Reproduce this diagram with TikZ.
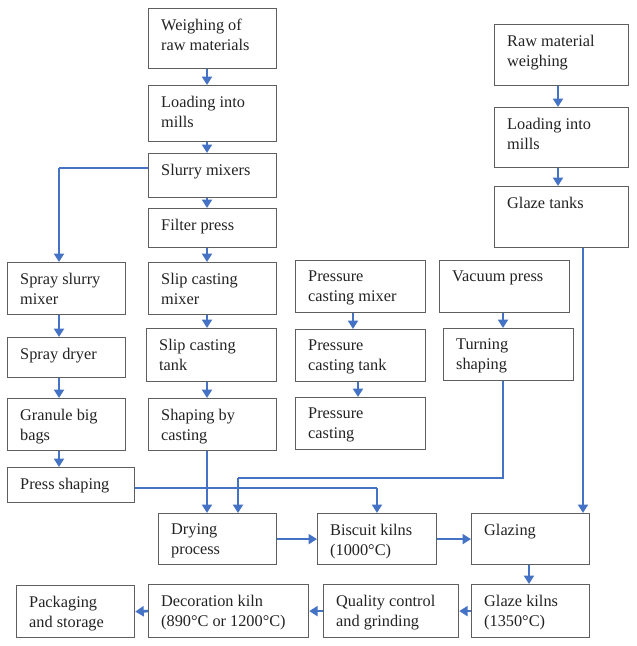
\documentclass[tikz,border=0pt]{standalone}
\usepackage{fontspec}
\setmainfont{Liberation Serif}
\usetikzlibrary{arrows.meta,calc}
\definecolor{flowblue}{RGB}{68,114,196}
\definecolor{boxgray}{RGB}{95,95,95}
\definecolor{txtgray}{RGB}{35,35,35}
\tikzset{
  box/.style={draw=boxgray, line width=1.2pt, fill=white, anchor=north west, inner sep=0pt},
  lbl/.style={anchor=north west, align=left, inner sep=0pt, text=txtgray, font=\fontsize{16.3}{20}\selectfont},
  arr/.style={draw=flowblue, line width=2.6pt, -{Triangle[width=10pt,length=8.5pt]}},
  thinline/.style={draw=flowblue, line width=1.1pt},
}
\newcommand{\procbox}[6]{%
  \node[box, minimum width=#4pt, minimum height=#5pt] (#1) at (#2,#3) {};
  \node[lbl] (#1-t) at ([xshift=13pt,yshift=-11pt]#1.north west) {#6};
}
\begin{document}
\begin{tikzpicture}[x=1pt,y=-1pt]
\useasboundingbox (0,0) rectangle (637,646);
\fill[white] (0,0) rectangle (637,646);
% centre column
\procbox{wr}{148}{8}{128}{60}{Weighing of\\raw materials}
\procbox{lm}{148}{85}{128}{56}{Loading into\\mills}
\procbox{sm}{148}{153}{128}{44}{Slurry mixers}
\procbox{fp}{148}{208}{128}{39}{Filter press}
\procbox{scm}{148}{262}{128}{52}{Slip casting\\mixer}
\procbox{sct}{146}{328}{130}{53}{Slip casting\\tank}
\procbox{sbc}{148}{398}{128}{52}{Shaping by\\casting}
% spray column
\procbox{ssm}{7}{262}{118}{52}{Spray slurry\\mixer}
\procbox{sd}{7}{337}{118}{40}{Spray dryer}
\procbox{gbb}{7}{398}{118}{52}{Granule big\\bags}
\procbox{ps}{7}{467}{127}{35}{Press shaping}
% pressure column
\procbox{pcm}{295}{260}{130}{52}{Pressure\\casting mixer}
\procbox{pct}{295}{329}{130}{52}{Pressure\\casting tank}
\procbox{pc}{295}{397}{130}{52}{Pressure\\casting}
% vacuum column
\procbox{vp}{439}{260}{130}{52}{Vacuum press}
\procbox{ts}{443}{328}{130}{52}{Turning\\shaping}
% glaze column
\procbox{rmw}{494}{24}{134}{61}{Raw material\\weighing}
\procbox{lmb}{494}{107}{134}{60}{Loading into\\mills}
\procbox{gt}{494}{186}{134}{61}{Glaze tanks}
% firing rows
\procbox{dp}{158}{513}{118}{51}{Drying\\process}
\procbox{bk}{317}{513}{119}{51}{Biscuit kilns\\(1000°C)}
\procbox{gl}{471}{513}{118}{51}{Glazing}
\procbox{gk}{471}{584}{118}{53}{Glaze kilns\\(1350°C)}
\procbox{qc}{323}{584}{135}{53}{Quality control\\and grinding}
\procbox{dk}{148}{584}{160}{53}{Decoration kiln\\(890°C or 1200°C)}
\procbox{pks}{16}{585}{118}{52}{Packaging\\and storage}
% column coordinates
\coordinate (cA) at (59,0);
\coordinate (cB) at (207,0);
\coordinate (cD1) at (353,0);
\coordinate (cD2) at (358,0);
\coordinate (cF) at (503,0);
\coordinate (cG) at (558,0);
\coordinate (cH) at (583,0);
\coordinate (cI) at (529,0);
\coordinate (js) at (59,168);
\coordinate (jp) at (377,488);
\coordinate (jt) at (238,478);
% centre column arrows
\draw[arr] (wr.south -| cB) -- (lm.north -| cB);
\draw[arr] (lm.south -| cB) -- (sm.north -| cB);
\draw[arr] (sm.south -| cB) -- (fp.north -| cB);
\draw[arr] (fp.south -| cB) -- (scm.north -| cB);
\draw[arr] (scm.south -| cB) -- (sct.north -| cB);
\draw[arr] (sct.south -| cB) -- (sbc.north -| cB);
\draw[arr] (sbc.south -| cB) -- (dp.north -| cB);
% spray branch
\draw[thinline] (sm.west |- js) -- (js);
\draw[arr] (js) -- (ssm.north -| js);
\draw[arr] (ssm.south -| cA) -- (sd.north -| cA);
\draw[arr] (sd.south -| cA) -- (gbb.north -| cA);
\draw[arr] (gbb.south -| cA) -- (ps.north -| cA);
\draw[thinline] (ps.east |- jp) -- (jp);
\draw[arr] (jp) -- (bk.north -| jp);
% pressure column
\draw[arr] (pcm.south -| cD1) -- (pct.north -| cD1);
\draw[arr] (pct.south -| cD2) -- (pc.north -| cD2);
% vacuum column
\draw[arr] (vp.south -| cF) -- (ts.north -| cF);
\draw[thinline] (ts.south -| cF) |- (jt);
\draw[arr] (jt) -- (dp.north -| jt);
% glaze column
\draw[arr] (rmw.south -| cG) -- (lmb.north -| cG);
\draw[arr] (lmb.south -| cG) -- (gt.north -| cG);
\draw[arr] (gt.south -| cH) -- (gl.north -| cH);
% firing
\draw[arr] (dp.east) -- (bk.west);
\draw[arr] (bk.east) -- (gl.west);
\draw[arr] (gl.south -| cI) -- (gk.north -| cI);
\draw[arr] (gk.west) -- (qc.east);
\draw[arr] (qc.west) -- (dk.east);
\draw[arr] (dk.west) -- (pks.east);
\end{tikzpicture}
\end{document}
